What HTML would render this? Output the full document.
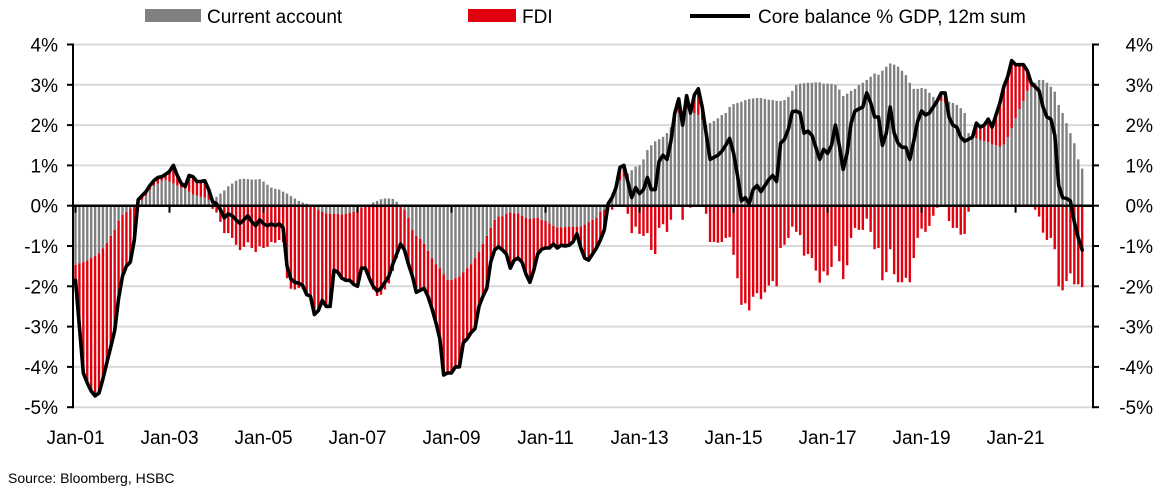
<!DOCTYPE html>
<html><head><meta charset="utf-8">
<style>
html,body{margin:0;padding:0;background:#fff;}
svg{display:block;font-family:"Liberation Sans",Arial,sans-serif;}
</style></head>
<body>
<svg id="chart" width="1161" height="498" viewBox="0 0 1161 498" xmlns="http://www.w3.org/2000/svg">
  <g>
    <rect x="145" y="9" width="56" height="13" fill="#808080"/>
    <text x="207" y="23" font-size="19" fill="#000">Current account</text>
    <rect x="468" y="9" width="48" height="13" fill="#e0000e"/>
    <text x="522" y="23" font-size="19" fill="#000">FDI</text>
    <line x1="690" y1="16" x2="750" y2="16" stroke="#000" stroke-width="4"/>
    <text x="758" y="23" font-size="19" fill="#000">Core balance % GDP, 12m sum</text>
  </g>
  <g id="grid"></g>
  <g id="bars"></g>
  <g id="axes"></g>
  <g id="line"></g>
  <text x="8" y="483" font-size="14" fill="#000">Source: Bloomberg, HSBC</text>
</svg>
<script>
const tickValues = [4,3,2,1,0,-1,-2,-3,-4,-5];
const tickLabels = ["4%","3%","2%","1%","0%","-1%","-2%","-3%","-4%","-5%"];
const xLabels = ["Jan-01","Jan-03","Jan-05","Jan-07","Jan-09","Jan-11","Jan-13","Jan-15","Jan-17","Jan-19","Jan-21"];
const currentAccount = [-1.47,-1.43,-1.4,-1.36,-1.3,-1.25,-1.18,-1.06,-0.93,-0.75,-0.6,-0.37,-0.23,-0.15,-0.07,-0.02,0.05,0.15,0.25,0.4,0.5,0.55,0.62,0.65,0.6,0.55,0.5,0.45,0.42,0.35,0.28,0.25,0.22,0.2,0.15,0.18,0.22,0.3,0.38,0.48,0.55,0.62,0.66,0.67,0.66,0.65,0.65,0.66,0.6,0.52,0.45,0.42,0.4,0.35,0.3,0.24,0.18,0.12,0.08,0.05,0.02,-0.03,-0.1,-0.15,-0.19,-0.2,-0.2,-0.2,-0.22,-0.2,-0.18,-0.15,-0.1,-0.05,0,0.03,0.08,0.12,0.16,0.18,0.18,0.17,0.1,0.02,-0.1,-0.3,-0.6,-0.75,-0.82,-0.95,-1.12,-1.3,-1.45,-1.55,-1.7,-1.84,-1.84,-1.8,-1.76,-1.65,-1.55,-1.45,-1.3,-1.15,-0.95,-0.75,-0.55,-0.35,-0.27,-0.26,-0.2,-0.17,-0.19,-0.19,-0.25,-0.3,-0.33,-0.31,-0.3,-0.35,-0.38,-0.44,-0.5,-0.54,-0.54,-0.53,-0.52,-0.52,-0.52,-0.52,-0.47,-0.4,-0.35,-0.3,-0.15,-0.1,0.1,0.3,0.45,0.62,0.72,0.8,0.88,0.97,1.0,1.15,1.38,1.5,1.6,1.65,1.71,1.8,1.95,2.1,2.3,2.35,2.4,2.35,2.3,2.25,2.12,2.0,2.05,2.1,2.17,2.25,2.3,2.45,2.52,2.55,2.58,2.62,2.65,2.66,2.67,2.67,2.65,2.63,2.62,2.6,2.6,2.62,2.7,2.85,3.0,3.03,3.04,3.05,3.05,3.06,3.06,3.03,3.03,3.02,3.0,2.88,2.72,2.78,2.85,2.9,3.0,3.05,3.12,3.2,3.28,3.25,3.35,3.45,3.53,3.5,3.45,3.35,3.24,3.05,2.9,2.9,2.92,2.9,2.8,2.7,2.65,2.6,2.55,2.58,2.55,2.5,2.42,2.3,1.8,1.7,1.67,1.63,1.6,1.58,1.52,1.5,1.46,1.52,1.7,1.92,2.17,2.4,2.6,2.85,2.95,3.05,3.12,3.12,3.05,2.95,2.83,2.5,2.3,2.05,1.8,1.55,1.15,0.92];
const fdi = [-0.38,-1.57,-2.75,-3.04,-3.3,-3.47,-3.47,-3.24,-2.97,-2.75,-2.5,-1.93,-1.52,-1.35,-1.33,-0.83,0.1,0.1,0.1,0.1,0.12,0.15,0.1,0.13,0.25,0.45,0.25,0.1,0.06,0.4,0.44,0.35,0.38,0.42,0.25,-0.08,-0.17,-0.4,-0.68,-0.68,-0.8,-0.97,-1.1,-1.02,-0.91,-1.05,-1.15,-1.01,-1.05,-1.02,-0.9,-0.92,-0.85,-0.9,-1.8,-2.06,-2.08,-2.04,-2.06,-2.25,-2.27,-2.67,-2.5,-2.2,-2.31,-2.3,-1.4,-1.45,-1.58,-1.65,-1.67,-1.8,-1.9,-1.5,-1.55,-1.83,-2.08,-2.24,-2.21,-2.08,-1.93,-1.62,-1.3,-0.97,-1.0,-1.15,-1.15,-1.4,-1.28,-1.1,-1.13,-1.25,-1.45,-1.75,-2.5,-2.31,-2.31,-2.2,-2.24,-1.75,-1.75,-1.7,-1.75,-1.35,-1.3,-1.3,-0.85,-0.75,-0.75,-0.84,-1.0,-1.38,-1.16,-1.11,-1.15,-1.4,-1.57,-1.29,-0.9,-0.73,-0.67,-0.61,-0.45,-0.51,-0.44,-0.47,-0.46,-0.38,-0.18,-0.53,-0.83,-0.95,-0.85,-0.75,-0.7,-0.5,-0.05,-0.1,0,0.33,0.28,-0.2,-0.68,-0.52,-0.7,-0.75,-0.68,-1.1,-1.2,-0.55,-0.46,-0.65,-0.35,0.2,0.35,-0.35,0.33,-0.05,0.45,0.65,0.33,-0.2,-0.9,-0.9,-0.92,-0.9,-0.8,-0.78,-1.22,-1.8,-2.46,-2.42,-2.6,-2.26,-2.17,-2.32,-2.15,-1.98,-1.87,-2.0,-1.05,-0.97,-0.8,-0.52,-0.65,-0.73,-1.24,-1.2,-1.3,-1.61,-1.91,-1.63,-1.73,-1.52,-1.0,-1.38,-1.82,-1.48,-0.8,-0.55,-0.6,-0.6,-0.32,-0.65,-1.08,-1.05,-1.85,-1.65,-1.08,-1.7,-1.9,-1.9,-1.79,-1.9,-1.3,-0.8,-0.57,-0.65,-0.5,-0.25,-0.05,0.2,0.25,-0.38,-0.55,-0.55,-0.72,-0.7,-0.15,0,0.38,0.32,0.4,0.57,0.43,0.75,1.09,1.43,1.5,1.68,1.33,1.1,0.9,0.5,0.1,-0.1,-0.27,-0.67,-0.85,-0.8,-1.08,-2.0,-2.1,-1.87,-1.68,-1.95,-1.95,-2.02];
const coreBalance = [-1.85,-3.0,-4.15,-4.4,-4.6,-4.72,-4.65,-4.3,-3.9,-3.5,-3.1,-2.3,-1.75,-1.5,-1.4,-0.85,0.15,0.25,0.35,0.5,0.62,0.7,0.72,0.78,0.85,1.0,0.75,0.55,0.48,0.75,0.72,0.6,0.6,0.62,0.4,0.1,0.05,-0.1,-0.3,-0.2,-0.25,-0.35,-0.44,-0.35,-0.25,-0.4,-0.5,-0.35,-0.45,-0.5,-0.45,-0.5,-0.45,-0.55,-1.5,-1.82,-1.9,-1.92,-1.98,-2.2,-2.25,-2.7,-2.6,-2.35,-2.5,-2.5,-1.6,-1.65,-1.8,-1.85,-1.85,-1.95,-2.0,-1.55,-1.55,-1.8,-2.0,-2.12,-2.05,-1.9,-1.75,-1.45,-1.2,-0.95,-1.1,-1.45,-1.75,-2.15,-2.1,-2.05,-2.25,-2.55,-2.9,-3.3,-4.2,-4.15,-4.15,-4.0,-4.0,-3.4,-3.3,-3.15,-3.05,-2.5,-2.25,-2.05,-1.4,-1.1,-1.02,-1.1,-1.2,-1.55,-1.35,-1.3,-1.4,-1.7,-1.9,-1.6,-1.2,-1.08,-1.05,-1.05,-0.95,-1.05,-0.98,-1.0,-0.98,-0.9,-0.7,-1.05,-1.3,-1.35,-1.2,-1.05,-0.85,-0.6,0.05,0.2,0.45,0.95,1.0,0.6,0.2,0.45,0.3,0.4,0.7,0.4,0.4,1.1,1.25,1.15,1.6,2.3,2.65,2.0,2.73,2.3,2.75,2.9,2.45,1.8,1.15,1.2,1.25,1.35,1.5,1.67,1.3,0.75,0.12,0.2,0.05,0.4,0.5,0.35,0.5,0.65,0.75,0.6,1.55,1.65,1.9,2.33,2.35,2.3,1.8,1.85,1.75,1.45,1.15,1.4,1.3,1.5,2.0,1.5,0.9,1.3,2.05,2.35,2.4,2.45,2.8,2.55,2.2,2.2,1.5,1.8,2.45,1.8,1.55,1.45,1.45,1.15,1.6,2.1,2.35,2.25,2.3,2.45,2.6,2.8,2.8,2.2,2.0,1.95,1.7,1.6,1.65,1.7,2.05,1.95,2.0,2.15,1.95,2.25,2.55,2.95,3.2,3.6,3.5,3.5,3.5,3.35,3.05,2.95,2.85,2.45,2.2,2.15,1.75,0.5,0.2,0.18,0.12,-0.4,-0.8,-1.1];

const NS = "http://www.w3.org/2000/svg";
const L = 73, R = 1093, Y0 = 205.7, PPU = 40.3;
const X0 = 75.5, DX = 3.917;
function yScale(v){ return Y0 - v * PPU; }
function xScale(i){ return X0 + i * DX; }
function mk(tag, attrs, parent){ const e = document.createElementNS(NS, tag); for (const k in attrs) e.setAttribute(k, attrs[k]); parent.appendChild(e); return e; }

const grid = document.getElementById('grid');
const axes = document.getElementById('axes');
const bars = document.getElementById('bars');
const lineG = document.getElementById('line');

tickValues.forEach((v, k) => {
  const y = yScale(v);
  if (v !== 0) {
    const g = mk('line', {x1: L, x2: R, y1: y, y2: y, stroke: '#d9d9d9', 'stroke-width': 2}, grid);
    
    
  }
  const tl = mk('line', {x1: L - 6, x2: L, y1: y, y2: y, stroke: '#000', 'stroke-width': 2}, axes);
  
  
  const tr = mk('line', {x1: R, x2: R + 6, y1: y, y2: y, stroke: '#000', 'stroke-width': 2}, axes);
  
  
  const a = mk('text', {x: 58, y: y + 7, 'font-size': 19, 'text-anchor': 'end', fill: '#000'}, axes);
  a.textContent = tickLabels[k];
  
  
  const b = mk('text', {x: 1153, y: y + 7, 'font-size': 19, 'text-anchor': 'end', fill: '#000'}, axes);
  b.textContent = tickLabels[k];
  
  
});

const bw = 2.4;
for (let i = 0; i < currentAccount.length; i++) {
  const ca = currentAccount[i], f = fdi[i];
  const x = xScale(i) - bw / 2;
  let fBase = 0;
  if ((ca >= 0 && f >= 0) || (ca < 0 && f < 0)) fBase = ca;
  const gy1 = yScale(Math.max(ca, 0)), gy2 = yScale(Math.min(ca, 0));
  const gb = mk('rect', {x: x, y: gy1, width: bw, height: Math.max(gy2 - gy1, 0), fill: '#808080'}, bars);
  
  
  const top = Math.max(fBase, fBase + f), bot = Math.min(fBase, fBase + f);
  const rb = mk('rect', {x: x, y: yScale(top), width: bw, height: Math.max(yScale(bot) - yScale(top), 0), fill: '#e0000e'}, bars);
  
  
}

const zl = mk('line', {x1: L, x2: R, y1: Y0, y2: Y0, stroke: '#000', 'stroke-width': 2.5}, axes);


const la = mk('line', {x1: L, x2: L, y1: yScale(4) - 1, y2: yScale(-5) + 1, stroke: '#000', 'stroke-width': 2}, axes);


const ra = mk('line', {x1: R, x2: R, y1: yScale(4) - 1, y2: yScale(-5) + 1, stroke: '#000', 'stroke-width': 2}, axes);



xLabels.forEach((lab, k) => {
  const x = xScale(k * 24);
  const t = mk('line', {x1: x, x2: x, y1: Y0, y2: Y0 + 7, stroke: '#000', 'stroke-width': 2}, axes);
  
  
  const tx = mk('text', {x: x, y: 444, 'font-size': 19, 'text-anchor': 'middle', fill: '#000'}, axes);
  tx.textContent = lab;
  
  
});

const pts = coreBalance.map((v, i) => xScale(i).toFixed(1) + ',' + yScale(v).toFixed(1)).join(' ');
const pl = mk('polyline', {points: pts, fill: 'none', stroke: '#000', 'stroke-width': 3.6, 'stroke-linejoin': 'round', 'stroke-linecap': 'round'}, lineG);


</script>
</body></html>
